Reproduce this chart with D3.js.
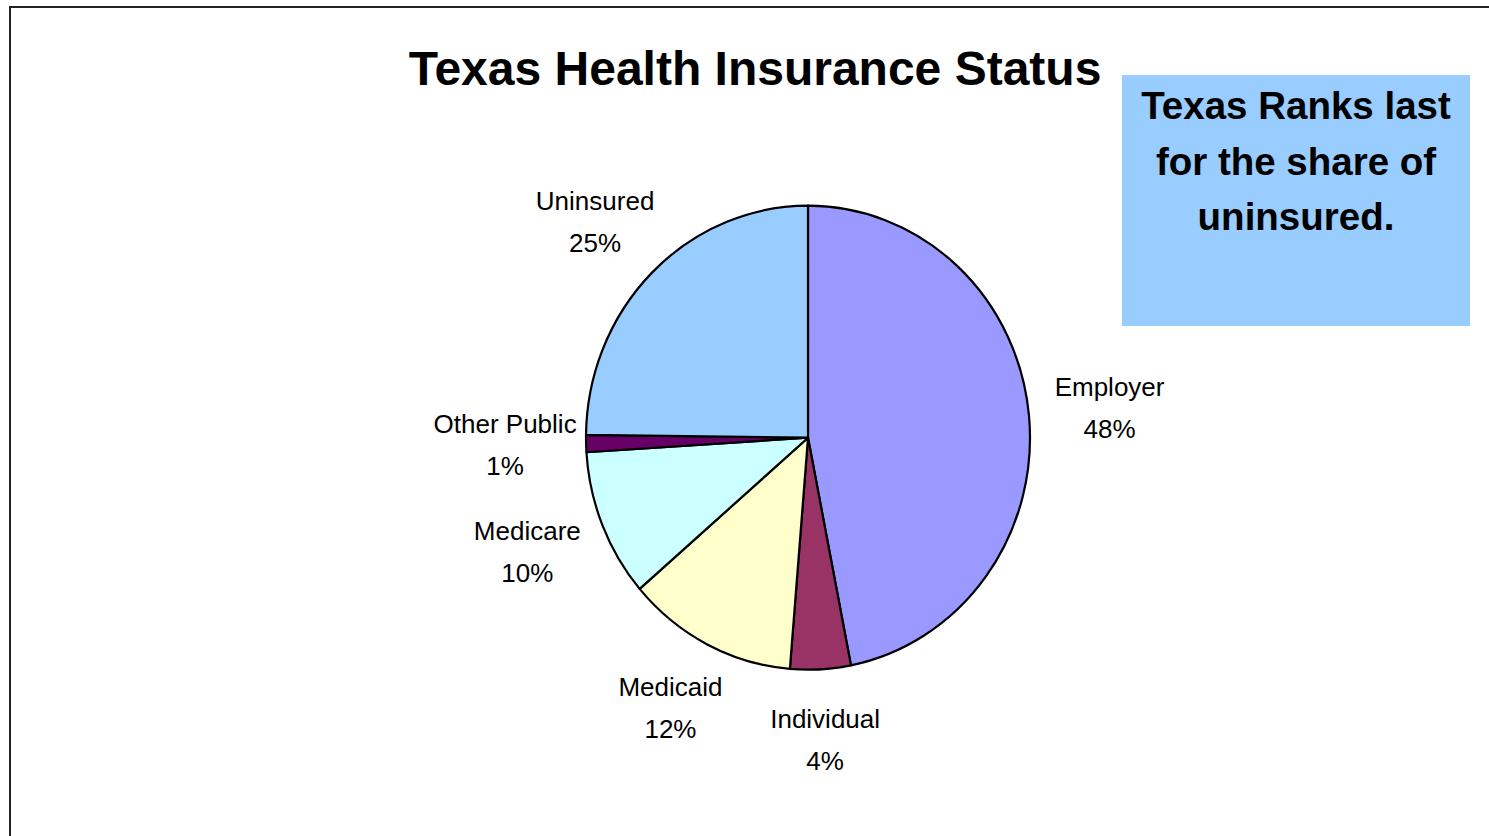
<!DOCTYPE html>
<html>
<head>
<meta charset="utf-8">
<script src="https://cdn.jsdelivr.net/npm/d3@7"></script>
<style>
  body { margin: 0; background: #fff; }
  text { font-family: "Liberation Sans", Arial, sans-serif; }
</style>
</head>
<body>
<svg id="chart"></svg>
<script>
// data (clockwise from 12 o'clock)
var categories = ["Employer", "Individual", "Medicaid", "Medicare", "Other Public", "Uninsured"]
var shares = [46.9, 4.4, 12.4, 10.3, 1.2, 24.8]
var pctLabels = ["48%", "4%", "12%", "10%", "1%", "25%"]
var colors = ["#9999FF", "#993366", "#FFFFCC", "#CCFFFF", "#660066", "#99CCFF"]
var noteLines = ["Texas Ranks last", "for the share of", "uninsured."]

var width = 1489
var height = 836

var svg = d3.select("#chart")
    .attr("width", width)
    .attr("height", height)

// chart frame (right/bottom run off the page)
svg.append("rect")
  .attr("x", 10).attr("y", 7)
  .attr("width", width + 20).attr("height", height + 20)
  .attr("fill", "none")
  .attr("stroke", "#222")
  .attr("stroke-width", 2)

svg.append("text")
  .attr("x", 755).attr("y", 85)
  .attr("text-anchor", "middle")
  .attr("font-size", 48)
  .attr("font-weight", "bold")
  .text("Texas Health Insurance Status")

var cx = 808, cy = 437.7
var r = 222
var yStretch = 232 / 222   // the pie in the picture is a bit taller than wide

var color = d3.scaleOrdinal().domain(categories).range(colors)

var pie = d3.pie().sort(null).value(d => d.value)
var slices = pie(categories.map((c, i) => ({name: c, value: shares[i], pct: pctLabels[i]})))

var arc = d3.arc().innerRadius(0).outerRadius(r)

var pieG = svg.append("g")
    .attr("transform", "translate(" + cx + "," + cy + ") scale(1," + yStretch + ")")

pieG.selectAll("path")
  .data(slices)
  .enter()
  .append("path")
  .attr("d", arc)
  .attr("fill", d => color(d.data.name))
  .attr("stroke", "#000")
  .attr("stroke-width", 2.2)
  .attr("stroke-linejoin", "round")
  .attr("vector-effect", "non-scaling-stroke")

// labels outside each slice
var labelArc = d3.arc().innerRadius(303).outerRadius(303)

var labels = svg.append("g")
    .attr("transform", "translate(" + cx + "," + cy + ")")
  .selectAll("text")
  .data(slices)
  .enter()
  .append("text")
  .attr("text-anchor", "middle")
  .attr("font-size", 26)
  .attr("fill", "#000")
  .attr("transform", d => "translate(" + labelArc.centroid(d) + ")")

labels.append("tspan").attr("x", 0).attr("y", -12).text(d => d.data.name)
labels.append("tspan").attr("x", 0).attr("y", 30).text(d => d.data.pct)

// note box
svg.append("rect")
  .attr("x", 1122).attr("y", 75)
  .attr("width", 348).attr("height", 251)
  .attr("fill", "#99CCFF")

svg.append("g")
  .selectAll("text")
  .data(noteLines)
  .enter()
  .append("text")
  .attr("x", 1296)
  .attr("y", (d, i) => 119 + i * 55.5)
  .attr("text-anchor", "middle")
  .attr("font-size", 38.5)
  .attr("font-weight", "bold")
  .text(d => d)
</script>
</body>
</html>
